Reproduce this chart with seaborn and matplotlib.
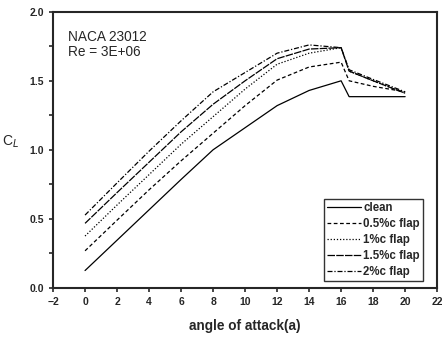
import matplotlib
matplotlib.use("Agg")
import matplotlib.pyplot as plt
import seaborn as sns
import pandas as pd
from matplotlib.ticker import MultipleLocator

# angle of attack (deg)
alpha = [0, 2, 4, 6, 8, 10, 12, 14, 16, 16.5, 18, 20]

# lift coefficient per configuration
clean = [0.125, 0.345, 0.565, 0.785, 1.00, 1.16, 1.32, 1.43, 1.50, 1.385, 1.385, 1.385]
flap05 = [0.268, 0.49, 0.71, 0.92, 1.12, 1.32, 1.505, 1.60, 1.635, 1.50, 1.46, 1.42]
flap10 = [0.375, 0.60, 0.82, 1.04, 1.24, 1.44, 1.62, 1.70, 1.74, 1.57, 1.50, 1.41]
flap15 = [0.467, 0.69, 0.91, 1.13, 1.33, 1.50, 1.66, 1.73, 1.74, 1.57, 1.50, 1.41]
flap20 = [0.527, 0.76, 0.99, 1.21, 1.42, 1.56, 1.70, 1.76, 1.74, 1.58, 1.51, 1.42]

labels = ["clean", "0.5%c flap", "1%c flap", "1.5%c flap", "2%c flap"]
series = [clean, flap05, flap10, flap15, flap20]

rows = []
for lab, vals in zip(labels, series):
    for a, c in zip(alpha, vals):
        rows.append({"alpha": a, "CL": c, "case": lab})
df = pd.DataFrame(rows)

sns.set_style("ticks")
plt.rcParams["font.family"] = ["Liberation Sans", "DejaVu Sans"]

fig = plt.figure(figsize=(4.42, 3.37), dpi=100)
ax = fig.add_axes([0.120, 0.146, 0.869, 0.819])

dashes = {
    "clean": "",
    "0.5%c flap": (3, 2),
    "1%c flap": (1, 1.5),
    "1.5%c flap": (6, 1),
    "2%c flap": (4, 1.5, 1, 1.5),
}
palette = {lab: "black" for lab in labels}

sns.lineplot(data=df, x="alpha", y="CL", hue="case", style="case",
             hue_order=labels, style_order=labels,
             palette=palette, dashes=dashes, linewidth=0.9, ax=ax)

ax.set_xlim(-2, 22)
ax.set_ylim(0, 2.0)
ax.xaxis.set_major_locator(MultipleLocator(2))
ax.yaxis.set_major_locator(MultipleLocator(0.5))
ax.yaxis.set_minor_locator(MultipleLocator(0.25))
ax.yaxis.set_major_formatter(matplotlib.ticker.FormatStrFormatter("%.1f"))
ax.tick_params(which="both", direction="out", length=3, width=1.2,
               labelsize=7.5)
for lbl in ax.get_xticklabels() + ax.get_yticklabels():
    lbl.set_fontweight("bold")
for sp in ax.spines.values():
    sp.set_linewidth(1.5)
    sp.set_visible(True)

ax.set_xlabel("angle of attack(a)", fontsize=9.8, fontweight="bold", labelpad=9)
ax.set_ylabel("C$_L$", fontsize=10, rotation=0, labelpad=14)

ax.text(0.04, 0.935, "NACA 23012\nRe = 3E+06", transform=ax.transAxes,
        fontsize=9.8, va="top", ha="left", linespacing=1.15)

leg = ax.legend(loc="lower right", bbox_to_anchor=(0.979, 0.002),
                fontsize=8.3, frameon=True, fancybox=False, edgecolor="black",
                handlelength=2.9, handletextpad=0.2, borderpad=0.3,
                labelspacing=0.34)
leg.get_frame().set_linewidth(1.0)
for t in leg.get_texts():
    t.set_fontweight("bold")

fig.savefig("out.png", dpi=100)
